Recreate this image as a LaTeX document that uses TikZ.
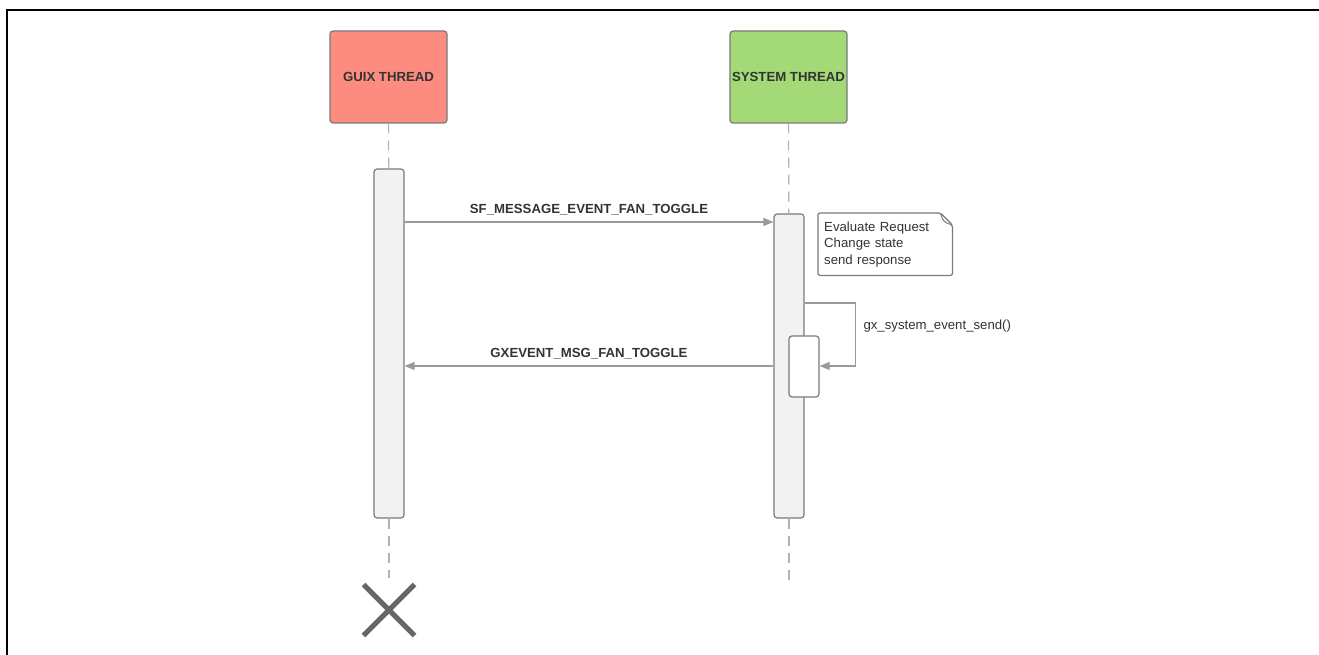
\documentclass[tikz,border=0pt]{standalone}
\usepackage{fontspec}
\setmainfont{Liberation Sans}
\usetikzlibrary{arrows.meta,shapes.misc}
\definecolor{guixred}{HTML}{FD8C80}
\definecolor{sysgreen}{HTML}{A4D977}
\definecolor{edgegray}{HTML}{7A7A7A}
\definecolor{linegray}{HTML}{9A9A9A}
\definecolor{textgray}{HTML}{333333}

\begin{document}
\begin{tikzpicture}[x=1pt,y=-1pt,font=\fontsize{13.2}{16.5}\selectfont,text=textgray]

                \tikzset{thread/.style = {draw=edgegray,line width=1.2pt,rounded corners=3pt,minimum width=117pt,minimum height=92pt,inner sep=0pt,font=\fontsize{13.2}{16}\selectfont\bfseries}}
                \tikzset{act/.style = {draw=edgegray,line width=1.2pt,rounded corners=3pt,fill=black!5,minimum width=30pt,inner sep=0pt}}
                \tikzset{life/.style = {draw=black!30,line width=1.2pt,dash pattern=on 10pt off 7pt}}
                \tikzset{msg/.style = {draw=linegray,line width=1.2pt,-{Triangle[length=10pt,width=8pt]}}}

                \useasboundingbox (0,0) rectangle (1319,655);
                \draw[line width=2pt] (7,655) -- (7,10) -- (1319,10);

                \node[thread,fill=guixred] (guix) at (388.5,77) {GUIX THREAD};
                \node[thread,fill=sysgreen] (sys) at (788.5,77) {SYSTEM THREAD};

                \node[act,minimum height=349pt] (guixact) at (389,343.5) {};
                \node[act,minimum height=304pt] (sysact) at (789,366) {};
                \node[act,fill=white,minimum height=61pt] (nestact) at (804,366.5) {};

                \node[cross out,draw=black!60,line width=5pt,minimum size=46pt,inner sep=0pt] (stop) at (389,610) {};
                \coordinate (sysend) at (789,580);

                \draw[life] (guix) -- (guixact);
                \draw[life] (guixact) -- ([yshift=7pt]stop.north);
                \draw[life] (sys) -- (sysact);
                \draw[life] (sysact) -- (sysend);

                \coordinate (r1) at (0,222);
                \coordinate (r2) at (0,303);
                \coordinate (r3) at (0,366);

                \draw[msg] (guixact.east |- r1) -- node[above=3pt,font=\fontsize{13.2}{16}\selectfont\bfseries] {SF\_MESSAGE\_EVENT\_FAN\_TOGGLE} (sysact.west |- r1);
                \draw[msg] (sysact.west |- r3) -- node[above=3pt,font=\fontsize{13.2}{16}\selectfont\bfseries] {GXEVENT\_MSG\_FAN\_TOGGLE} (guixact.east |- r3);
                \draw[msg] (sysact.east |- r2) -- ++(51,0) |- (nestact.east |- r3);
                \node[anchor=west] (call) at (860,326) {gx\_system\_event\_send()};

                % note with a folded corner
                \node[anchor=north west,minimum width=134pt,minimum height=62pt,text width=122pt,inner sep=6pt,align=left] (note) at (818,213) {Evaluate Request\\Change state\\send response};
                \draw[draw=edgegray,line width=1.2pt,rounded corners=2pt] (note.north west) -- ([xshift=-12pt]note.north east) -- ([yshift=-12pt]note.north east) -- (note.south east) -- (note.south west) -- cycle;
                \draw[draw=edgegray,line width=1pt] ([xshift=-12pt]note.north east) .. controls ([xshift=-9pt,yshift=-9pt]note.north east) .. ([yshift=-12pt]note.north east);

            \end{tikzpicture}
\end{document}
